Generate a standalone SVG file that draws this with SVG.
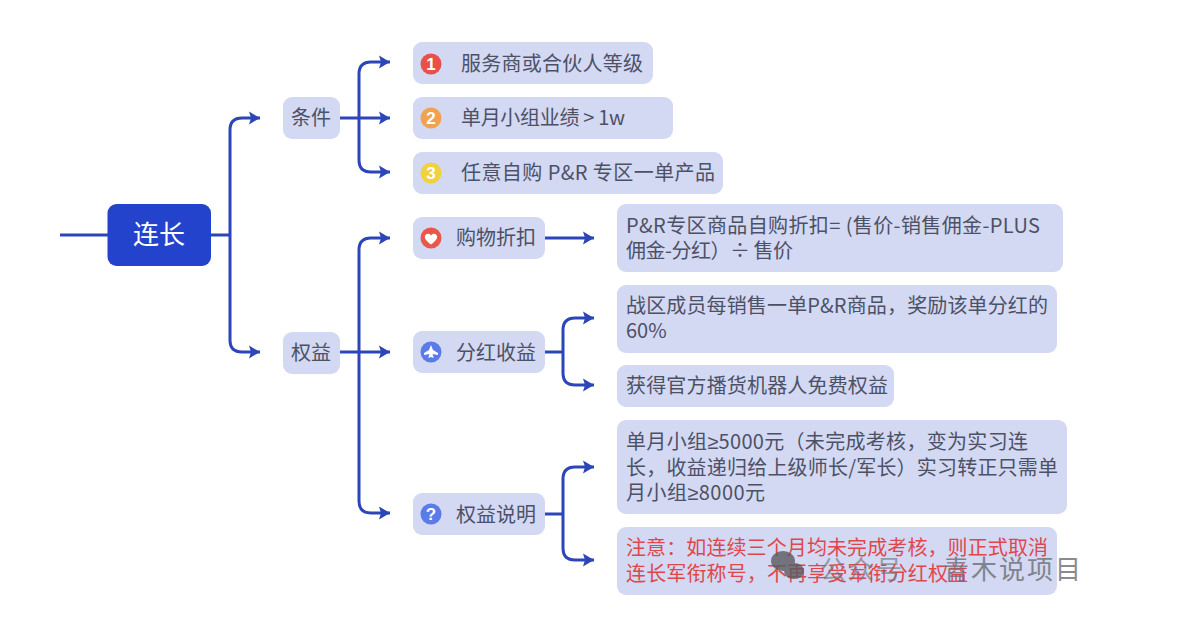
<svg xmlns="http://www.w3.org/2000/svg" width="1179" height="629" viewBox="0 0 1179 629">
<style>
.n{fill:#d3d8f3}
.t{font:20px "Noto Sans CJK SC","Noto Sans",sans-serif;fill:#4c5166}
.r{fill:#e0474c}
.c{fill:none;stroke:#2c45b8;stroke-width:3;stroke-linejoin:round}
.g{fill:#fff;font:bold 17px "Liberation Sans",sans-serif;text-anchor:middle}
.m{font-family:"Liberation Sans",sans-serif}
.w{font:26px "Noto Sans CJK SC",sans-serif;letter-spacing:2px;fill:#6d6f78}
</style>
<defs>
<marker id="a" markerUnits="userSpaceOnUse" markerWidth="12" markerHeight="14" refX="11" refY="7" orient="auto"><path d="M0 0.500L11 7L0 13.500L2 7Z" fill="#2c45b8"/></marker>
</defs>
<rect width="1179" height="629" fill="#fff"/>
<g id="connectors">
<path class="c" d="M60 235H108"/>
<path class="c" d="M211 235H230"/>
<path class="c" marker-end="url(#a)" d="M230 235V130Q230 118 242 118H260"/>
<path class="c" marker-end="url(#a)" d="M230 235V340Q230 352 242 352H260"/>
<path class="c" marker-end="url(#a)" d="M340 118H390"/>
<path class="c" marker-end="url(#a)" d="M359 118V74Q359 62 371 62H390"/>
<path class="c" marker-end="url(#a)" d="M359 118V160Q359 172 371 172H390"/>
<path class="c" marker-end="url(#a)" d="M340 352H390"/>
<path class="c" marker-end="url(#a)" d="M359 352V250Q359 238 371 238H390"/>
<path class="c" marker-end="url(#a)" d="M359 352V501Q359 513 371 513H390"/>
<path class="c" marker-end="url(#a)" d="M545 238H594"/>
<path class="c" d="M545 352H563"/>
<path class="c" marker-end="url(#a)" d="M563 352V330Q563 318 575 318H594"/>
<path class="c" marker-end="url(#a)" d="M563 352V373Q563 385 575 385H594"/>
<path class="c" d="M545 514H563"/>
<path class="c" marker-end="url(#a)" d="M563 514V479Q563 467 575 467H594"/>
<path class="c" marker-end="url(#a)" d="M563 514V548Q563 560 575 560H594"/>
</g>
<g id="root"><rect x="107.500" y="204" width="103.500" height="62" rx="9" fill="#2443cc"/><text x="159" y="244" text-anchor="middle" font-family="Noto Sans CJK SC,sans-serif" font-size="26" fill="#fff">连长</text></g>
<g id="tiaojian"><rect class="n" x="283" y="97" width="57" height="42" rx="9"/><text class="t" x="291" y="125">条件</text></g>
<g id="item1"><rect class="n" x="413" y="42" width="240" height="42" rx="9"/><circle cx="431" cy="64" r="10.500" fill="#e8504a"/><text class="g" x="431" y="70">1</text><text class="t" x="461" y="71" textLength="182">服务商或合伙人等级</text></g>
<g id="item2"><rect class="n" x="413" y="97" width="260" height="42" rx="9"/><circle cx="431" cy="118" r="10.500" fill="#f0a24e"/><text class="g" x="431" y="124">2</text><text class="t" x="461" y="125" textLength="164">单月小组业绩 &gt; 1w</text></g>
<g id="item3"><rect class="n" x="413" y="152" width="310" height="42" rx="9"/><circle cx="431" cy="173" r="10.500" fill="#efd23e"/><text class="g" x="431" y="179">3</text><text class="t" x="461" y="180" textLength="254">任意自购 P&amp;R 专区一单产品</text></g>
<g id="quanyi"><rect class="n" x="283" y="332" width="57" height="42" rx="9"/><text class="t" x="291" y="360">权益</text></g>
<g id="gouwu"><rect class="n" x="413" y="217" width="132" height="42" rx="9"/><circle cx="431" cy="238" r="10.500" fill="#e8574a"/><path d="M431 244.500C425 240 424.500 237.500 425 236C426 233 429.500 233 431 235.500C432.500 233 436 233 437 236C437.500 237.500 437 240 431 244.500Z" fill="#fff"/><text class="t" x="456" y="245" textLength="80">购物折扣</text></g>
<g id="fenhong"><rect class="n" x="413" y="331" width="132" height="42" rx="9"/><circle cx="431" cy="352" r="10.500" fill="#5b7be8"/><path d="M431 345L433 350L438 353V355L432.500 354L433.500 357V358L431 357L428.500 358V357L429.500 354L424 355V353L429 350Z" fill="#fff"/><text class="t" x="456" y="360" textLength="80">分红收益</text></g>
<g id="shuoming"><rect class="n" x="413" y="493" width="132" height="42" rx="9"/><circle cx="431" cy="514" r="10.500" fill="#5b7be8"/><text class="g" x="431" y="520">?</text><text class="t" x="456" y="522" textLength="80">权益说明</text></g>
<g id="zhekou"><rect class="n" x="617" y="204" width="446" height="68" rx="9"/><text class="t" x="626" y="233" textLength="414">P&amp;R专区商品自购折扣= (售价-销售佣金-PLUS</text><text class="t" x="626" y="258" textLength="167">佣金-分红）÷ 售价</text></g>
<g id="zhanqu"><rect class="n" x="617" y="285" width="440" height="68" rx="9"/><text class="t" x="626" y="313" textLength="422">战区成员每销售一单P&amp;R商品，奖励该单分红的</text><text class="t" x="626" y="338">60%</text></g>
<g id="bohuo"><rect class="n" x="617" y="365" width="277" height="42" rx="9"/><text class="t" x="626" y="393" textLength="262">获得官方播货机器人免费权益</text></g>
<g id="shuoming1"><rect class="n" x="617" y="420" width="450" height="94" rx="9"/><text class="t" x="626" y="449" textLength="402">单月小组<tspan class="m">≥</tspan>5000元（未完成考核，变为实习连</text><text class="t" x="626" y="475" textLength="432">长，收益递归给上级师长/军长）实习转正只需单</text><text class="t" x="626" y="500" textLength="139">月小组<tspan class="m">≥</tspan>8000元</text></g>
<g id="zhuyi"><rect class="n" x="617" y="527" width="440" height="68" rx="9"/><text class="t r" x="626" y="555" textLength="422">注意：如连续三个月均未完成考核，则正式取消</text><text class="t r" x="626" y="581" textLength="342">连长军衔称号，不再享受军衔分红权益</text></g>
<g opacity=".8">
<ellipse cx="783" cy="561" rx="12" ry="10" fill="#5a5a60"/><ellipse cx="794" cy="571" rx="10" ry="8" fill="#5a5a60"/>
<text class="w" x="820" y="579" opacity=".75">公众号</text>
<text class="w" x="943" y="579">青木说项目</text>
</g>
</svg>
